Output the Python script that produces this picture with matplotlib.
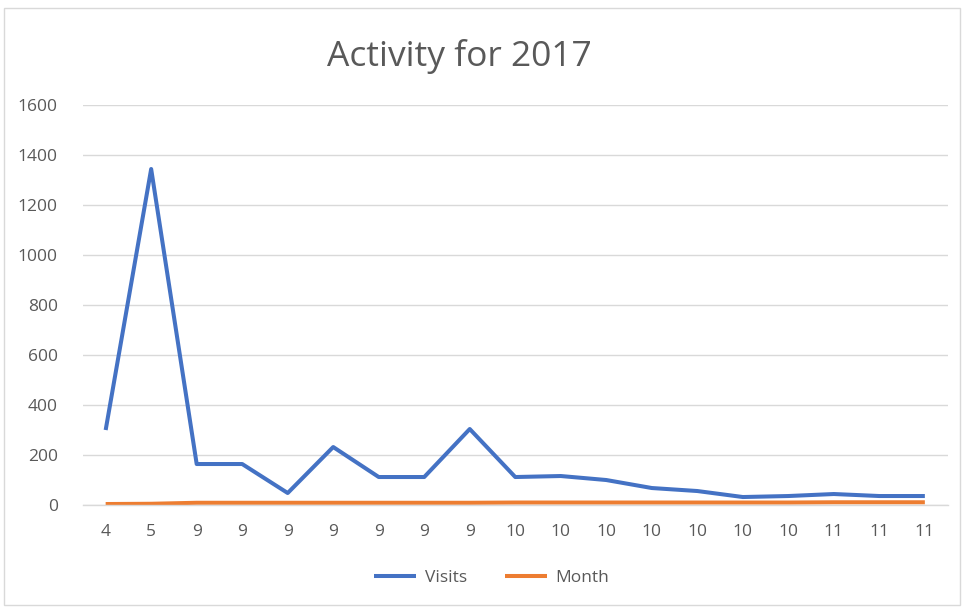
import matplotlib.pyplot as plt
from matplotlib.patches import Rectangle

plt.rcParams['font.family'] = ['Open Sans', 'DejaVu Sans']

labels = ["4", "5", "9", "9", "9", "9", "9", "9", "9", "10",
          "10", "10", "10", "10", "10", "10", "11", "11", "11"]
visits = [300, 1344, 164, 164, 48, 232, 112, 112, 304, 112,
          116, 100, 68, 56, 32, 36, 44, 36, 36]
month = [4, 5, 9, 9, 9, 9, 9, 9, 9, 10,
         10, 10, 10, 10, 10, 10, 11, 11, 11]

blue = "#4472C4"
orange = "#ED7D31"
grey_txt = "#595959"
grid_col = "#D9D9D9"

fig = plt.figure(figsize=(9.64, 6.07), dpi=100)
ax = fig.add_axes([0.086, 0.168, 0.897, 0.659])

x = list(range(len(labels)))
ax.plot(x, visits, color=blue, lw=2.9, label="Visits", solid_capstyle="butt")
ax.plot(x, month, color=orange, lw=2.9, label="Month", solid_capstyle="butt")

ax.set_xlim(-0.5, len(labels) - 0.5)
ax.set_ylim(0, 1600)
ax.set_yticks(range(0, 1601, 200))
ax.set_xticks(x)
ax.set_xticklabels(labels)
ax.tick_params(axis="both", length=0, labelsize=12.5, colors=grey_txt)
ax.tick_params(axis="x", pad=14)
ax.tick_params(axis="y", pad=18)
ax.grid(axis="y", color=grid_col, lw=1)
ax.set_axisbelow(True)
for s in ["top", "right", "left"]:
    ax.spines[s].set_visible(False)
ax.spines["bottom"].set_color(grid_col)
ax.spines["bottom"].set_linewidth(1)

fig.text(0.477, 0.907, "Activity for 2017", ha="center", va="center",
         fontsize=25.5, color=grey_txt)

fig.legend(loc="center", bbox_to_anchor=(0.51, 0.048), ncol=2, frameon=False,
           fontsize=12.5, labelcolor=grey_txt, handlelength=2.4,
           columnspacing=2.2, handletextpad=0.5)

fig.patches.append(Rectangle((0.004, 0.004), 0.992, 0.982, transform=fig.transFigure,
                             fill=False, edgecolor=grid_col, lw=1))

fig.savefig("out.png", dpi=100)
